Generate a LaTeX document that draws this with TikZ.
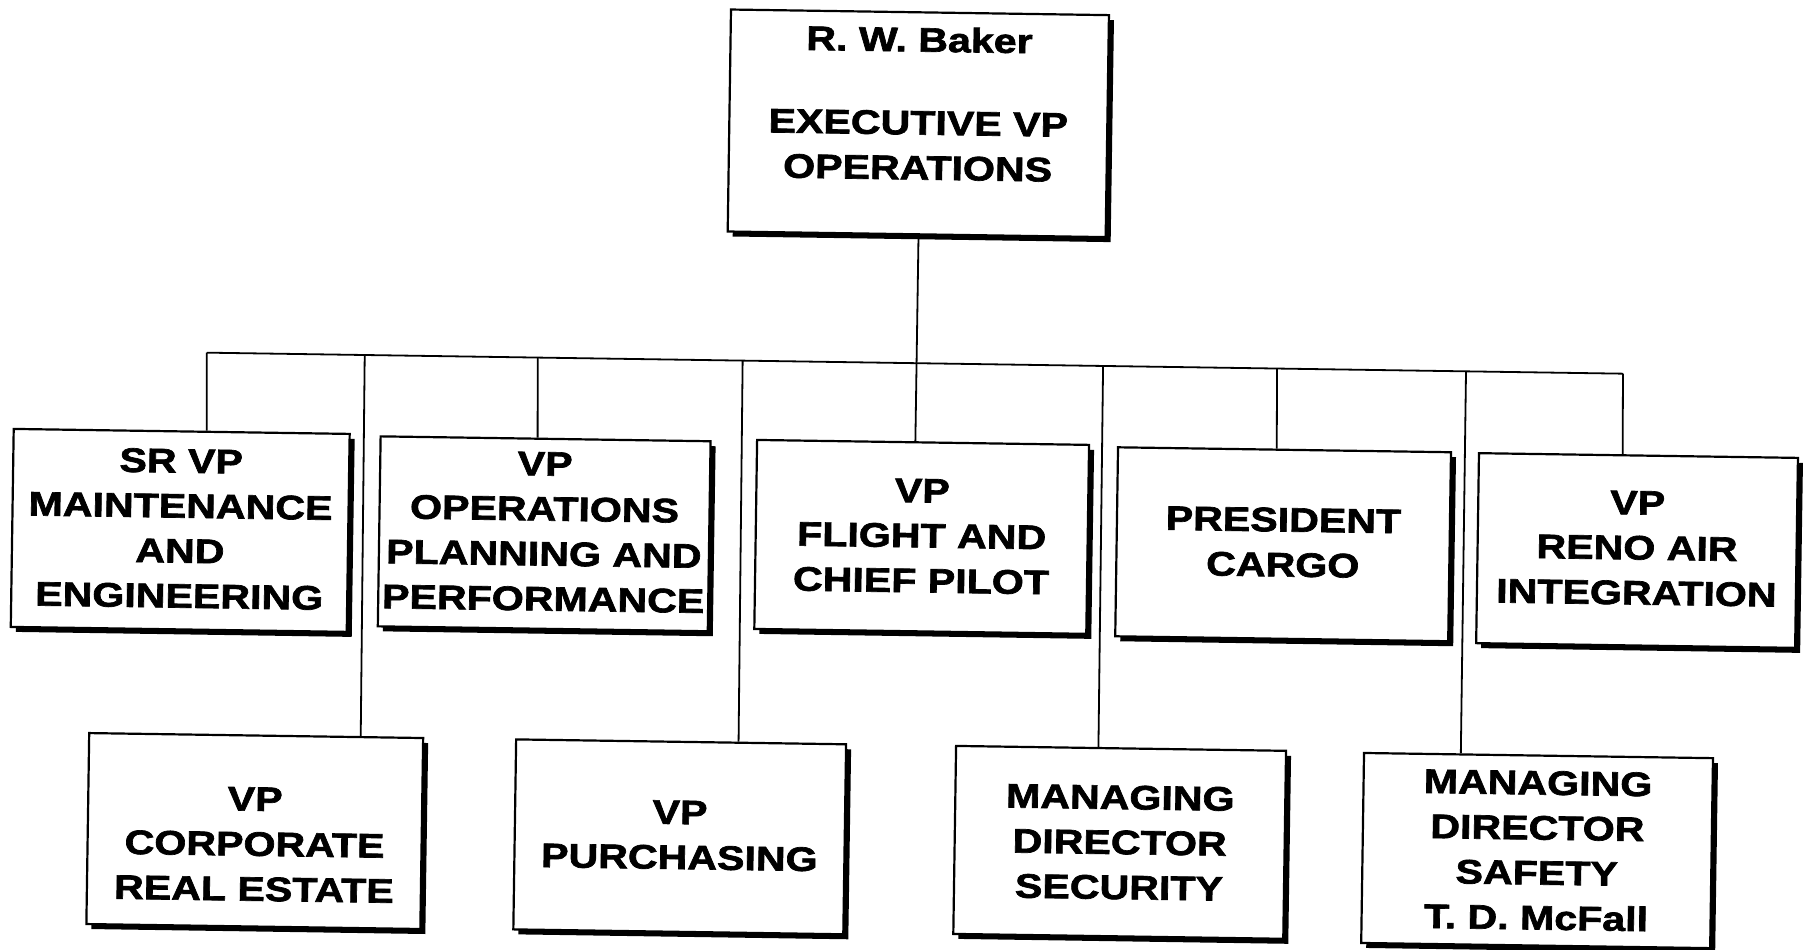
\documentclass[tikz,border=0pt]{standalone}
\usepackage{fontspec}
\usetikzlibrary{calc,shadows}
\newfontfamily\orgfont[FakeStretch=1.21,FakeBold=2]{Liberation Sans Bold}
\newcommand\tstrut[1]{\rule{0pt}{#1bp}}
\newcommand\bstrut[1]{\rule[-#1bp]{0pt}{0pt}}
\tikzset{
  orgbox/.style={draw=black, line width=2.2bp, fill=white, anchor=north west,
    align=center, inner sep=0pt,
    font=\orgfont\fontsize{34bp}{45bp}\selectfont,
    drop shadow={shadow xshift=5bp, shadow yshift=-5bp, fill=black, opacity=1}},
  sz/.style 2 args={minimum width=#1bp, minimum height=#2bp},
  wire/.style={line width=1.8bp, draw=black},
}
\begin{document}
\begin{tikzpicture}[x=1bp,y=-1bp]
\fill[white] (0,0) rectangle (1804,949);
\useasboundingbox (0,0) rectangle (1804,949);
\begin{scope}[rotate around={-0.85:(902,475)}, transform shape]
% top
\node[orgbox, sz={378}{222}] (top) at (723,11)
  {\tstrut{30}R. W. Baker\\[38bp]EXECUTIVE VP\\OPERATIONS\bstrut{45.5}};
% first row
\node[orgbox, sz={336}{198}] (b1) at (12,441)
  {\tstrut{29.5}SR VP\\MAINTENANCE\\AND\\ENGINEERING\bstrut{10}};
\node[orgbox, sz={330}{190}] (b2) at (379,443)
  {\tstrut{28.5}VP\\OPERATIONS\\PLANNING AND\\PERFORMANCE\bstrut{10}};
\node[orgbox, sz={332}{189}] (b3) at (755.5,441)
  {\tstrut{31}VP\\FLIGHT AND\\CHIEF PILOT\bstrut{10}};
\node[orgbox, sz={333}{189}] (b4) at (1116.5,443)
  {\tstrut{29.5}PRESIDENT\\CARGO\bstrut{10}};
\node[orgbox, sz={319}{190}] (b5) at (1477.5,443.5)
  {\tstrut{28}VP\\RENO AIR\\INTEGRATION\bstrut{10}};
% second row
\node[orgbox, sz={334}{191}] (c1) at (92,744)
  {\tstrut{59.5}VP\\CORPORATE\\REAL ESTATE\bstrut{10}};
\node[orgbox, sz={330}{190}] (c2) at (519,744)
  {\tstrut{29.5}VP\\PURCHASING\bstrut{10}};
\node[orgbox, sz={330}{188}] (c3) at (959,744)
  {\tstrut{33.5}MANAGING\\DIRECTOR\\SECURITY\bstrut{10}};
\node[orgbox, sz={349}{190}] (c4) at (1367,745)
  {\tstrut{33}MANAGING\\DIRECTOR\\SAFETY\\T. D. McFall\bstrut{10}};
% bus
\coordinate (busL) at (205,363);
\coordinate (busR) at (1621.5,363);
\coordinate (dC1) at (363,363);
\coordinate (dB2) at (536,363);
\coordinate (dC2) at (741,363);
\coordinate (dC3) at (1101.5,363);
\coordinate (dB4) at (1275.5,363);
\coordinate (dC4) at (1464.5,363);
\draw[wire] (busL) -- (busR);
\draw[wire] ($(top.south west)!0.505!(top.south east)$) -- ($(b3.north west)!0.477!(b3.north east)$);
\draw[wire] (busL) -- ($(b1.north west)!0.574!(b1.north east)$);
\draw[wire] (dC1) -- ($(c1.north west)!0.811!(c1.north east)$);
\draw[wire] (dB2) -- ($(b2.north west)!0.476!(b2.north east)$);
\draw[wire] (dC2) -- ($(c2.north west)!0.673!(c2.north east)$);
\draw[wire] (dC3) -- ($(c3.north west)!0.432!(c3.north east)$);
\draw[wire] (dB4) -- ($(b4.north west)!0.477!(b4.north east)$);
\draw[wire] (dC4) -- ($(c4.north west)!0.279!(c4.north east)$);
\draw[wire] (busR) -- ($(b5.north west)!0.451!(b5.north east)$);
\end{scope}
\end{tikzpicture}
\end{document}
